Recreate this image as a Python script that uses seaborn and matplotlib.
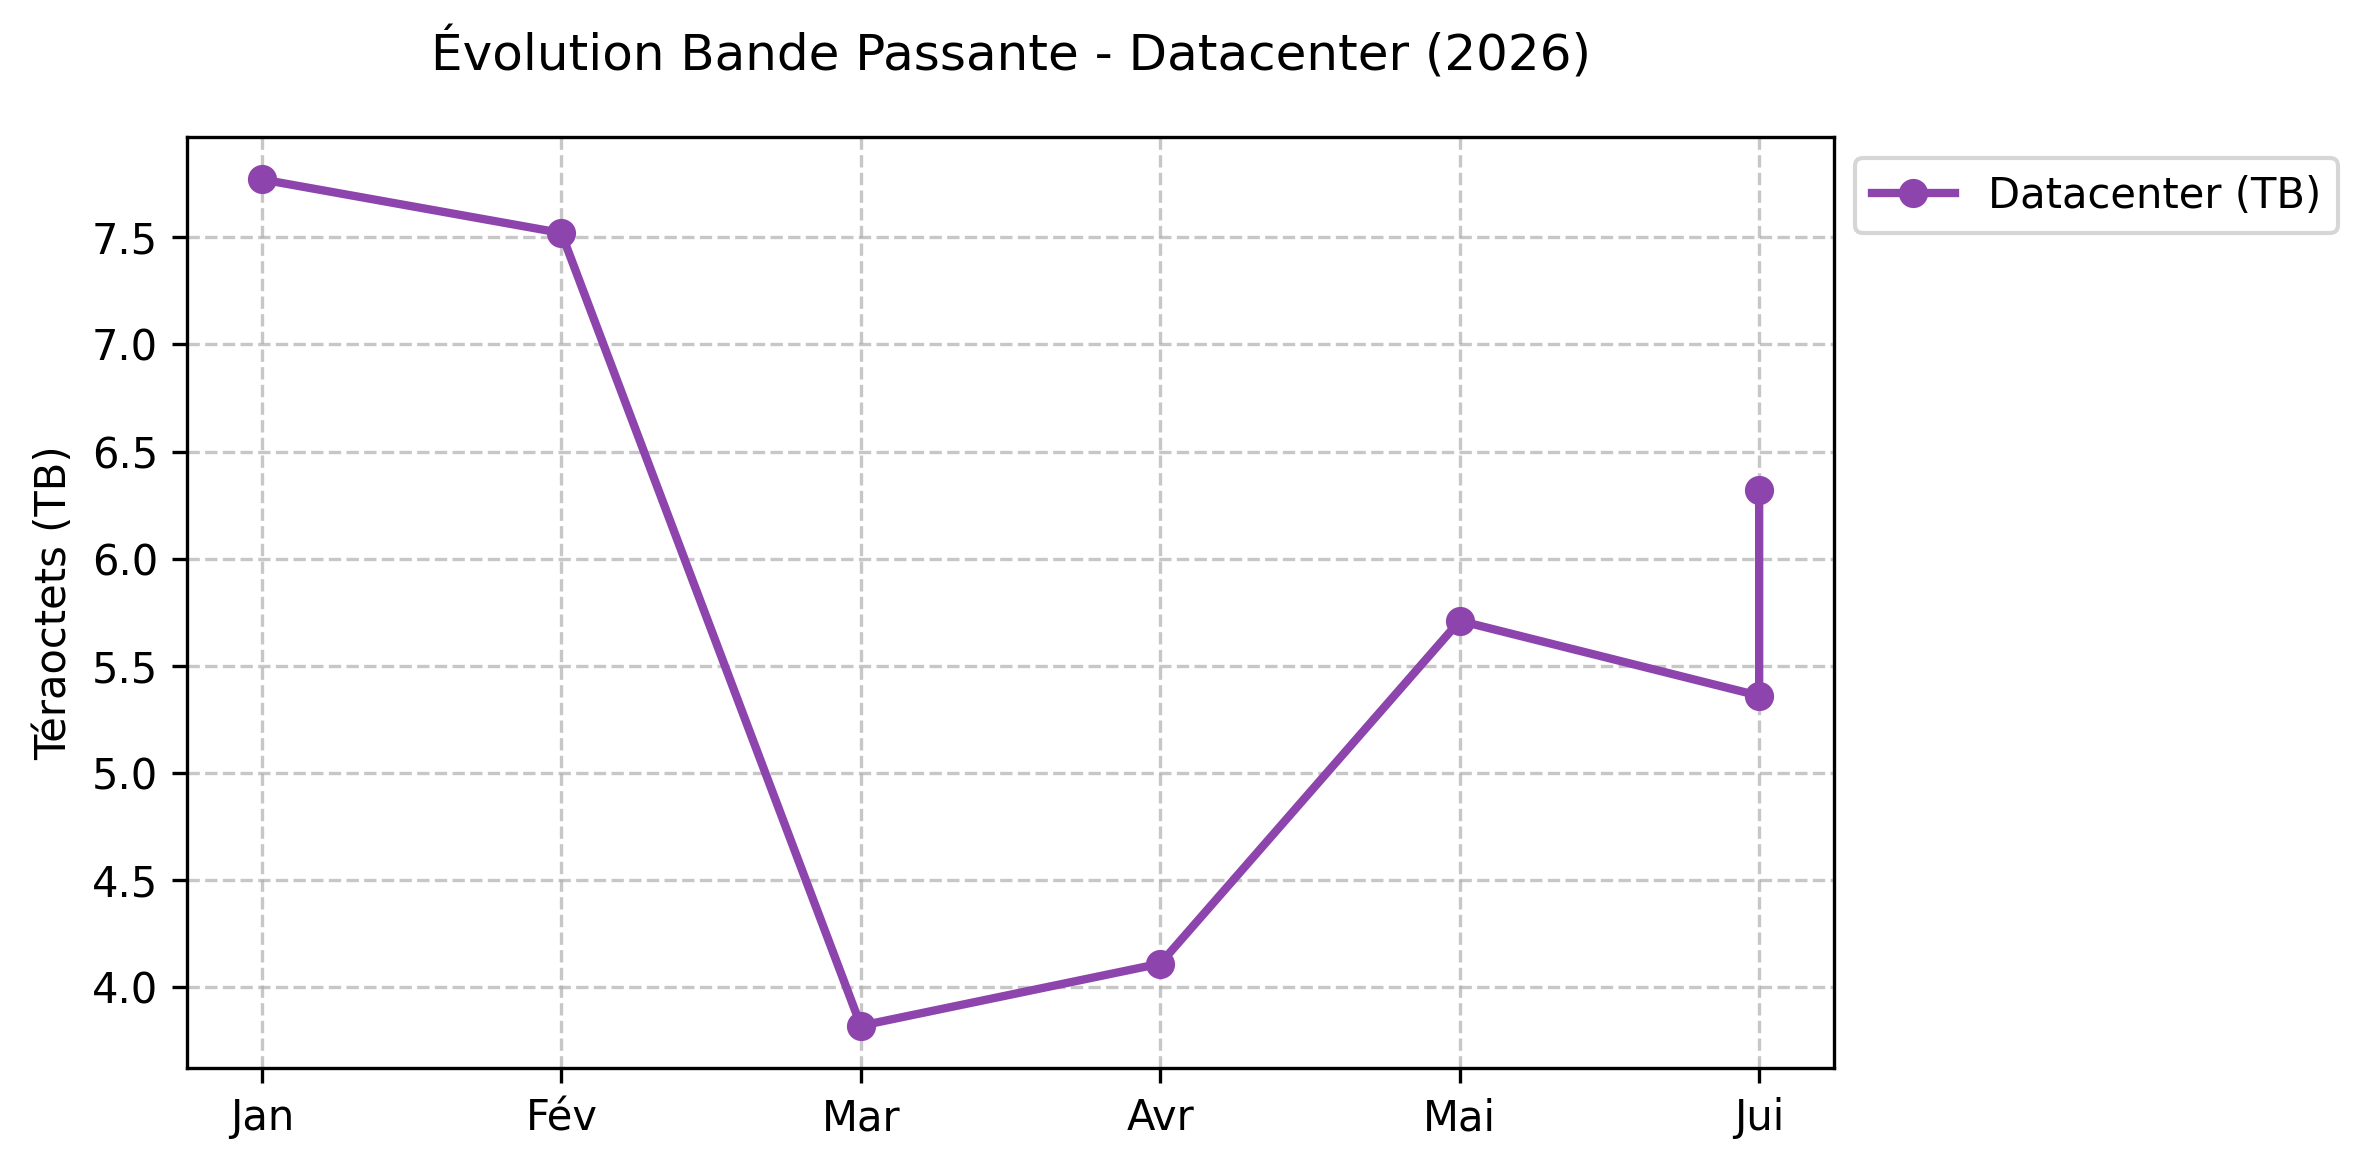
import matplotlib
matplotlib.use("Agg")
import matplotlib.pyplot as plt
import seaborn as sns

# valeurs ; juin et juillet ont tous deux le libellé "Jui"
mois = ["Jan", "Fév", "Mar", "Avr", "Mai", "Jui", "Jui"]
bande_tb = [7.77, 7.52, 3.82, 4.11, 5.71, 5.36, 6.32]

couleur = "#8E44AD"

fig, ax = plt.subplots(figsize=(2368 / 300, 1172 / 300), dpi=300)
fig.subplots_adjust(left=0.079, right=0.7745, top=0.883, bottom=0.0887)

sns.lineplot(x=mois, y=bande_tb, ax=ax, estimator=None, sort=False,
             color=couleur, linewidth=2, marker="o", markersize=6,
             markeredgecolor=couleur, markeredgewidth=1,
             label="Datacenter (TB)")

ax.set_title("Évolution Bande Passante - Datacenter (2026)", fontsize=12, pad=16)
ax.set_ylabel("Téraoctets (TB)", fontsize=10)
ax.set_xlabel("")
ax.grid(True, linestyle="--", alpha=0.7)
ax.legend(loc="upper left", bbox_to_anchor=(1, 1))

fig.savefig("out.png", dpi=300)
